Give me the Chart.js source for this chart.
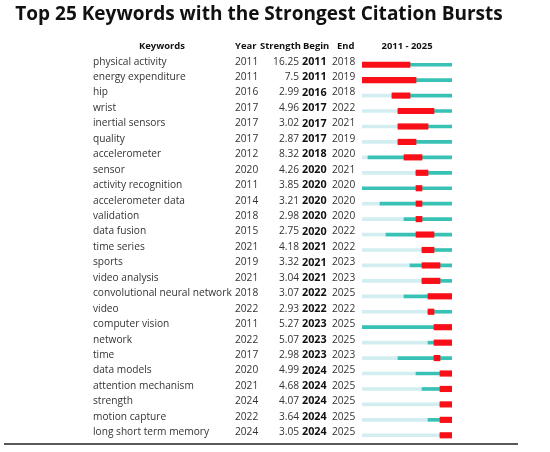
<!DOCTYPE html>
<html><head><meta charset="utf-8">
<script src="https://cdn.jsdelivr.net/npm/chart.js@4.4.1/dist/chart.umd.min.js"></script>
<style>html,body{margin:0;padding:0;background:#fff;}#wrap{position:relative;width:550px;height:452px;}</style>
</head><body><div id="wrap"><canvas id="c"></canvas></div>
<script>
const keywords = ["physical activity","energy expenditure","hip","wrist","inertial sensors","quality","accelerometer","sensor","activity recognition","accelerometer data","validation","data fusion","time series","sports","video analysis","convolutional neural network","video","computer vision","network","time","data models","attention mechanism","strength","motion capture","long short term memory"];
const years = [2011,2011,2016,2017,2017,2017,2012,2020,2011,2014,2018,2015,2021,2019,2021,2018,2022,2011,2022,2017,2020,2021,2024,2022,2024];
const strengths = ["16.25","7.5","2.99","4.96","3.02","2.87","8.32","4.26","3.85","3.21","2.98","2.75","4.18","3.32","3.04","3.07","2.93","5.27","5.07","2.98","4.99","4.68","4.07","3.64","3.05"];
const begins = [2011,2011,2016,2017,2017,2017,2018,2020,2020,2020,2020,2020,2021,2021,2021,2022,2022,2023,2023,2023,2024,2024,2024,2024,2024];
const ends = [2018,2019,2018,2022,2021,2019,2020,2021,2020,2020,2020,2022,2022,2023,2023,2025,2022,2025,2025,2023,2025,2025,2025,2025,2025];
const rangeStart = 2011, rangeEnd = 2025;
const titleText = "Top 25 Keywords with the Strongest Citation Bursts";
const headers = ["Keywords","Year","Strength","Begin","End","2011 - 2025"];

const FONT = "'Open Sans', 'Noto Sans', sans-serif";
const ROW_SHIFT = -3;

const mctx = document.createElement('canvas').getContext('2d');
function fitSize(text, weight, target) {
  mctx.font = `${weight} 20px ${FONT}`;
  return 20 * target / mctx.measureText(text).width;
}
const rowSize = Math.min(11, fitSize("convolutional neural network", "normal", 139));
const headSize = Math.min(12, fitSize("Strength", "bold", 41));
const boldSize = Math.min(11.5, rowSize * 1.06);

const tablePlugin = {
  id: 'table',
  afterDraw(chart) {
    const ctx = chart.ctx;
    const y = chart.scales.y;
    ctx.save();
    // title
    const fs = fitSize(titleText, "bold", 488);
    ctx.font = `bold ${fs}px ${FONT}`;
    ctx.fillStyle = '#111';
    ctx.textAlign = 'center';
    ctx.textBaseline = 'alphabetic';
    ctx.fillText(titleText, 259, 19.5);
    // headers
    ctx.font = `bold ${headSize}px ${FONT}`;
    ctx.textBaseline = 'middle';
    ctx.fillStyle = '#111';
    ctx.textAlign = 'center'; ctx.fillText(headers[0], 162, 46);
    ctx.textAlign = 'left';
    ctx.fillText(headers[1], 235, 46);
    ctx.fillText(headers[2], 260, 46);
    ctx.fillText(headers[3], 303, 46);
    ctx.fillText(headers[4], 337, 46);
    ctx.textAlign = 'center';
    ctx.fillText(headers[5], 407, 46);
    // rows
    keywords.forEach((k, i) => {
      const py = y.getPixelForValue(i) + ROW_SHIFT;
      ctx.font = `${rowSize}px ${FONT}`;
      ctx.fillStyle = '#333';
      ctx.textAlign = 'left';
      ctx.fillText(String(years[i]), 235, py);
      ctx.textAlign = 'right';
      ctx.fillText(strengths[i], 299, py);
      ctx.textAlign = 'left';
      ctx.fillText(String(ends[i]), 332, py);
      ctx.font = `bold ${boldSize}px ${FONT}`;
      ctx.fillStyle = '#111';
      ctx.fillText(String(begins[i]), 302, py);
    });
    // bottom rule
    ctx.strokeStyle = '#222';
    ctx.lineWidth = 1.5;
    ctx.beginPath();
    ctx.moveTo(4, 444);
    ctx.lineTo(518, 444);
    ctx.stroke();
    ctx.restore();
  }
};

new Chart(document.getElementById('c'), {
  type: 'bar',
  data: {
    labels: keywords,
    datasets: [
      { label: 'burst', data: begins.map((b, i) => [b, ends[i] + 1]), backgroundColor: '#F80F18', barThickness: 5.5, grouped: false },
      { label: 'active', data: years.map(v => [v, rangeEnd + 1]), backgroundColor: '#38C2B5', barThickness: 3, grouped: false },
      { label: 'before', data: years.map(v => [rangeStart, v]), backgroundColor: '#D2EEF0', barThickness: 3, grouped: false }
    ]
  },
  options: {
    indexAxis: 'y',
    responsive: true,
    maintainAspectRatio: false,
    animation: false,
    devicePixelRatio: 1,
    layout: { padding: { left: 93, right: 98, top: 57, bottom: 9 } },
    plugins: { legend: { display: false }, tooltip: { enabled: false }, title: { display: false } },
    scales: {
      x: { type: 'linear', min: rangeStart, max: rangeEnd + 1, display: false },
      y: {
        type: 'category',
        offset: true,
        grid: { display: false },
        border: { display: false },
        ticks: { autoSkip: false, crossAlign: 'far', padding: 0, labelOffset: ROW_SHIFT, color: '#333', font: { family: FONT, size: rowSize } },
        afterFit(scale) { scale.width = 269; }
      }
    }
  },
  plugins: [tablePlugin]
});
</script></body></html>
